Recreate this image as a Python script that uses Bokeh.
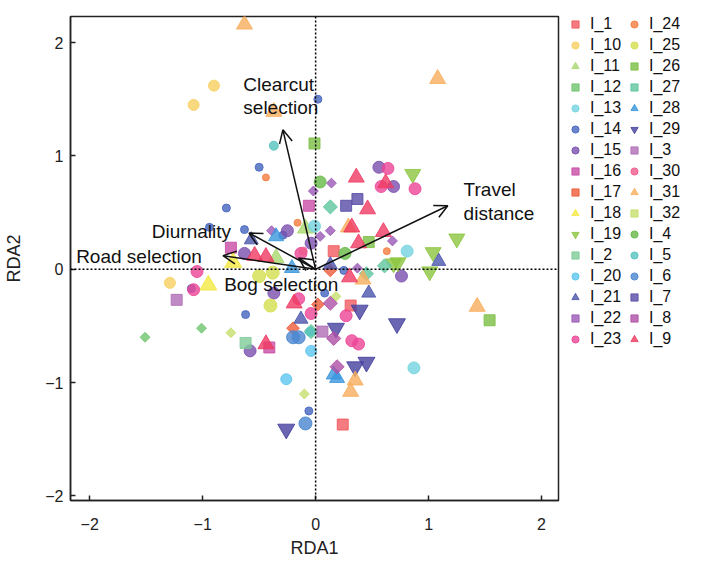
import math
from bokeh.plotting import figure
from bokeh.models import (Legend, LegendItem, Arrow, OpenHead, Span, Label,
                          FixedTicker, Range1d)
from bokeh.embed import file_html
from bokeh.resources import INLINE

# ---------------- data ----------------
x_ticks = [-2, -1, 0, 1, 2]
y_ticks = [-2, -1, 0, 1, 2]

I_1_x = [0.16, 0.31, 0.24]
I_1_y = [0.16, -0.32, -1.37]
I_10_x = [-0.90, -1.08, -1.29]
I_10_y = [1.62, 1.45, -0.12]
I_11_x = [-0.09, -0.35]
I_11_y = [0.36, 0.10]
I_12_x = [-1.01, -1.51]
I_12_y = [-0.52, -0.60]
I_13_x = [-0.01, 0.81, 0.87]
I_13_y = [0.38, 0.16, -0.87]
I_14_x = [0.02, -0.50, -0.79, -0.94, -0.63, -0.29, -1.10, -0.62, 0.08, 0.25, -0.06]
I_14_y = [1.50, 0.90, 0.54, 0.37, 0.35, 0.30, -0.17, -0.40, -0.21, -0.01, -1.25]
I_15_x = [-0.25, -0.63, -0.37, -0.58, 0.56, 0.69, -0.04, 0.76]
I_15_y = [0.34, 0.14, -0.21, -0.72, 0.90, 0.73, 0.23, -0.06]
I_16_x = [-0.06, -0.75, -0.41]
I_16_y = [0.56, 0.19, -0.69]
I_17_x = [-0.20, 0.02, 0.13]
I_17_y = [-0.52, -0.31, -0.01]
I_18_x = [-0.73, -0.95]
I_18_y = [0.06, -0.14]
I_19_x = [0.86, 1.04, 1.25, 0.73, 1.01, 0.69]
I_19_y = [0.84, 0.15, 0.27, 0.06, -0.02, 0.05]
I_2_x = [-0.62]
I_2_y = [-0.65]
I_20_x = [-0.04, -0.26]
I_20_y = [-0.72, -0.97]
I_21_x = [-0.57, -0.13, 1.09, 0.13, 0.47]
I_21_y = [0.26, -0.44, 0.07, 0.04, -0.21]
I_22_x = [-0.02, 0.14, -0.39, 0.13, 0.04, 0.68, 0.37]
I_22_y = [0.69, 0.76, 0.34, 0.34, 0.29, 0.25, 0.01]
I_23_x = [-0.13, -1.05, -1.08, -0.04, -0.15, 0.27, 0.32, 0.38, 0.64, 0.58, 0.88]
I_23_y = [0.14, -0.02, -0.18, -0.39, -0.26, -0.41, -0.63, -0.66, 0.89, 0.73, 0.71]
I_24_x = [-0.44, -0.16, 0.63]
I_24_y = [0.81, 0.41, 0.16]
I_25_x = [-0.50, -0.38, -0.40]
I_25_y = [-0.06, -0.03, -0.32]
I_26_x = [-0.01, 0.47, 1.54]
I_26_y = [1.11, 0.24, -0.45]
I_27_x = [0.13, 0.61, 0.45, -0.04]
I_27_y = [0.55, 0.03, -0.04, -0.55]
I_28_x = [-0.35, 0.16, 0.19, -0.21]
I_28_y = [0.29, -0.93, -0.96, 0.01]
I_29_x = [0.39, 0.18, 0.35, 0.45, 0.72, -0.26]
I_29_y = [-0.36, -0.52, -0.86, -0.82, -0.48, -1.41]
I_3_x = [-1.23, 0.06]
I_3_y = [-0.27, -0.55]
I_30_x = [-0.11]
I_30_y = [0.16]
I_31_x = [-0.63, -0.37, 1.08, 0.29, 0.42, 1.43, 0.35, 0.31]
I_31_y = [2.16, 1.39, 1.68, 0.37, -0.09, -0.33, -0.98, -1.08]
I_32_x = [-0.75, -0.10, 0.18]
I_32_y = [-0.56, -1.10, -0.24]
I_4_x = [0.04, 0.26]
I_4_y = [0.77, 0.14]
I_5_x = [-0.37, -0.05]
I_5_y = [1.09, -0.55]
I_6_x = [-0.20, -0.15, -0.09]
I_6_y = [-0.60, -0.60, -1.36]
I_7_x = [0.27, 0.37]
I_7_y = [0.56, 0.62]
I_8_x = [0.13, 0.16, 0.19]
I_8_y = [-0.30, -0.61, -0.86]
I_9_x = [-0.54, -0.44, -0.19, -0.44, 0.36, 0.62, 0.46, 0.32, 0.38, 0.60, 0.30]
I_9_y = [0.12, 0.11, -0.30, -0.66, 0.81, 0.76, 0.53, 0.37, 0.23, 0.33, -0.07]

series_names = ["I_1", "I_10", "I_11", "I_12", "I_13", "I_14", "I_15", "I_16",
                "I_17", "I_18", "I_19", "I_2", "I_20", "I_21", "I_22", "I_23",
                "I_24", "I_25", "I_26", "I_27", "I_28", "I_29", "I_3", "I_30",
                "I_31", "I_32", "I_4", "I_5", "I_6", "I_7", "I_8", "I_9"]

series_data = {
    "I_1": (I_1_x, I_1_y), "I_10": (I_10_x, I_10_y), "I_11": (I_11_x, I_11_y),
    "I_12": (I_12_x, I_12_y), "I_13": (I_13_x, I_13_y), "I_14": (I_14_x, I_14_y),
    "I_15": (I_15_x, I_15_y), "I_16": (I_16_x, I_16_y), "I_17": (I_17_x, I_17_y),
    "I_18": (I_18_x, I_18_y), "I_19": (I_19_x, I_19_y), "I_2": (I_2_x, I_2_y),
    "I_20": (I_20_x, I_20_y), "I_21": (I_21_x, I_21_y), "I_22": (I_22_x, I_22_y),
    "I_23": (I_23_x, I_23_y), "I_24": (I_24_x, I_24_y), "I_25": (I_25_x, I_25_y),
    "I_26": (I_26_x, I_26_y), "I_27": (I_27_x, I_27_y), "I_28": (I_28_x, I_28_y),
    "I_29": (I_29_x, I_29_y), "I_3": (I_3_x, I_3_y), "I_30": (I_30_x, I_30_y),
    "I_31": (I_31_x, I_31_y), "I_32": (I_32_x, I_32_y), "I_4": (I_4_x, I_4_y),
    "I_5": (I_5_x, I_5_y), "I_6": (I_6_x, I_6_y), "I_7": (I_7_x, I_7_y),
    "I_8": (I_8_x, I_8_y), "I_9": (I_9_x, I_9_y),
}

# environmental vectors (arrow tips, from origin)
vector_names = ["Clearcut selection", "Travel distance", "Diurnality",
                "Road selection", "Bog selection"]
vector_x = [-0.29, 1.17, -0.59, -0.82, -0.15]
vector_y = [1.23, 0.56, 0.32, 0.12, 0.10]

# ---------------- styles ----------------
# marker, colour, size ("diamond" = rotated square)
styles = {
    "I_1": ("square", "#F15A5F", 11), "I_10": ("circle", "#F7D060", 11),
    "I_11": ("triangle", "#A9D86E", 16), "I_12": ("diamond", "#6FC46F", 7),
    "I_13": ("circle", "#74D3E0", 12), "I_14": ("circle", "#4565BE", 8),
    "I_15": ("circle", "#7B4FAE", 12), "I_16": ("square", "#C94CA5", 11),
    "I_17": ("diamond", "#EF5B3A", 9), "I_18": ("triangle", "#F4E842", 17),
    "I_19": ("inverted_triangle", "#8CC63F", 16), "I_2": ("square", "#7FCB98", 11),
    "I_20": ("circle", "#5CC6EF", 11), "I_21": ("triangle", "#4B55AC", 14),
    "I_22": ("diamond", "#9B59B6", 7), "I_23": ("circle", "#EC4596", 12),
    "I_24": ("circle", "#F47D3F", 7), "I_25": ("circle", "#D5DF4F", 13),
    "I_26": ("square", "#7BBF43", 11), "I_27": ("diamond", "#5FC79E", 10),
    "I_28": ("triangle", "#3A96DD", 15), "I_29": ("inverted_triangle", "#45409E", 17),
    "I_3": ("square", "#B06DB6", 11), "I_30": ("circle", "#EF5A8C", 8),
    "I_31": ("triangle", "#F8AE5C", 16), "I_32": ("diamond", "#C6DF6E", 7),
    "I_4": ("circle", "#66B946", 12), "I_5": ("circle", "#55C3BE", 9),
    "I_6": ("circle", "#4A86CF", 13), "I_7": ("square", "#584BA6", 11),
    "I_8": ("diamond", "#AE4FA6", 10), "I_9": ("triangle", "#EF3A62", 16),
}

FONT = "Liberation Sans"

p = figure(frame_width=488, frame_height=484,
           x_range=Range1d(-2.17, 2.15), y_range=Range1d(-2.04, 2.23),
           output_backend="svg", toolbar_location=None,
           min_border_left=70, min_border_right=137,
           min_border_top=16, min_border_bottom=58)

p.xgrid.visible = False
p.ygrid.visible = False
p.outline_line_color = "#222222"
p.outline_line_width = 1.5
p.background_fill_color = "white"
p.border_fill_color = "white"

for ax, ticks, lab in ((p.xaxis[0], x_ticks, "RDA1"), (p.yaxis[0], y_ticks, "RDA2")):
    ax.ticker = FixedTicker(ticks=ticks)
    ax.minor_tick_line_color = None
    ax.major_tick_in = 5
    ax.major_tick_out = 0
    ax.major_tick_line_width = 1.5
    ax.major_tick_line_color = "#222222"
    ax.axis_line_color = "#222222"
    ax.axis_line_width = 1.5
    ax.major_label_text_font = FONT
    ax.major_label_text_font_size = "16px"
    ax.major_label_text_color = "#222222"
    ax.axis_label = lab
    ax.axis_label_text_font = FONT
    ax.axis_label_text_font_size = "18px"
    ax.axis_label_text_font_style = "normal"
    ax.axis_label_text_color = "#222222"

p.xaxis.major_label_standoff = 17
p.xaxis.axis_label_standoff = 5
p.yaxis.major_label_standoff = 7
p.yaxis.axis_label_standoff = 18

items = []
for name in series_names:
    xs, ys = series_data[name]
    marker, color, size = styles[name]
    angle = 0.0
    if marker == "diamond":
        marker = "square"
        angle = math.pi / 4
    r = p.scatter(xs, ys, marker=marker, size=size, angle=angle,
                  fill_color=color, fill_alpha=0.8,
                  line_color=color, line_alpha=0.85, line_width=1)
    items.append(LegendItem(label=name, renderers=[r]))

# zero lines
p.add_layout(Span(location=0, dimension="width", line_color="black",
                  line_width=1.5, line_dash="2 2"))
p.add_layout(Span(location=0, dimension="height", line_color="black",
                  line_width=1.5, line_dash="2 2"))

# vectors
for vx, vy in zip(vector_x, vector_y):
    p.add_layout(Arrow(end=OpenHead(size=13, line_width=1.5, line_color="#111111"),
                       x_start=0, y_start=0, x_end=vx, y_end=vy,
                       line_width=1.5, line_color="#111111"))

# vector labels (lines, anchor x, anchor y)
label_specs = [
    ("Clearcut", -0.64, 1.63), ("selection", -0.64, 1.43),
    ("Travel", 1.31, 0.70), ("distance", 1.31, 0.49),
    ("Diurnality", -1.45, 0.33),
    ("Road selection", -2.12, 0.11),
    ("Bog selection", -0.81, -0.13),
]
for txt, lx, ly in label_specs:
    p.add_layout(Label(x=lx, y=ly, text=txt, text_font=FONT,
                       text_font_size="19px", text_color="#111111",
                       text_align="left", text_baseline="middle"))

legend = Legend(items=items, location=(8, 151), nrows=16,
                glyph_width=18, glyph_height=20, label_height=20,
                label_width=34, label_standoff=6, spacing=1, padding=4,
                margin=0,
                label_text_font=FONT, label_text_font_size="16px",
                label_text_color="#111111",
                border_line_color=None, background_fill_alpha=0)
p.add_layout(legend, "right")

open("out.html", "w").write(file_html(p, INLINE))
